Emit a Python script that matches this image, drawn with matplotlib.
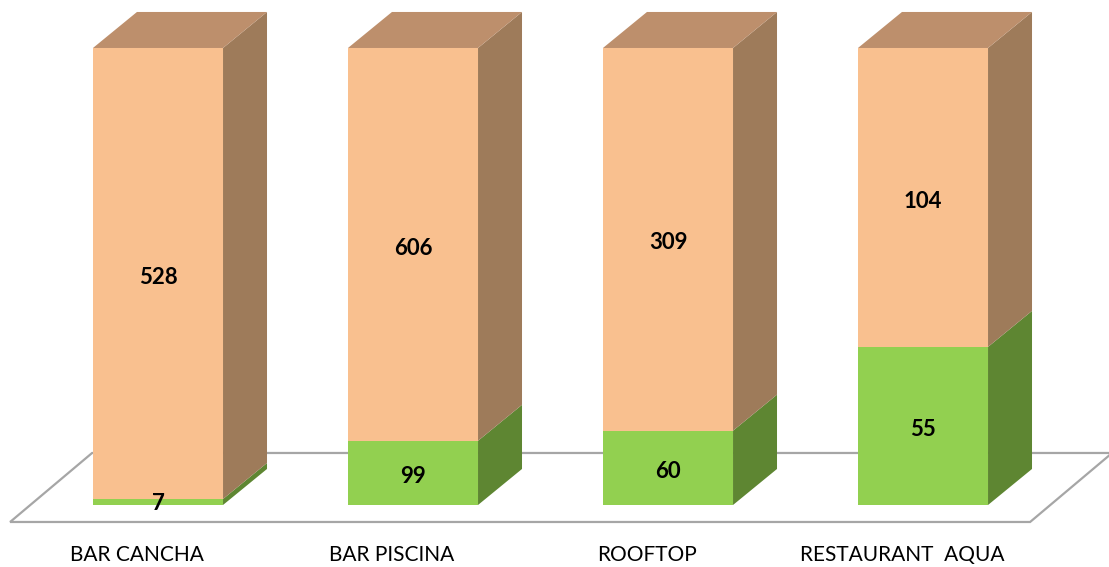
import numpy as np
import matplotlib.pyplot as plt

categories = ['BAR CANCHA', 'BAR PISCINA', 'ROOFTOP', 'RESTAURANT  AQUA']
green_vals = [7, 99, 60, 55]
orange_vals = [528, 606, 309, 104]

# colours (front, top, side)
orange = ('#F9C08F', '#BD8F6C', '#9E7B5A')
green = ('#92D050', '#92D050', '#5E8632')

# geometry in data units (x: category index, y: percent)
bw = 0.51          # bar front width
dx, dy = 0.1725, 7.88   # bar depth offset
fdx, fdy = 0.3216, 15.1  # floor depth

fig = plt.figure(figsize=(11.09, 5.67), dpi=100)
ax = fig.add_axes([0, 0, 1, 1])
ax.set_xlim(-0.6196, 3.7294)
ax.set_ylim(-13.57, 110.5)
ax.axis('off')

# floor
fy0 = -3.72
fx0, fx1 = -0.58, 3.42
ax.fill([fx0, fx1, fx1 + fdx, fx0 + fdx], [fy0, fy0, fy0 + fdy, fy0 + fdy],
        facecolor='white', edgecolor='#A6A6A6', linewidth=1.6, zorder=1)

def box(x, y0, y1, cols, top=False):
    l, r = x - bw / 2, x + bw / 2
    # side face
    ax.fill([r, r + dx, r + dx, r], [y0, y0 + dy, y1 + dy, y1], color=cols[2], zorder=3, lw=0)
    if top:
        ax.fill([l, r, r + dx, l + dx], [y1, y1, y1 + dy, y1 + dy], color=cols[1], zorder=3, lw=0)
    ax.fill([l, r, r, l], [y0, y0, y1, y1], color=cols[0], zorder=4, lw=0)

for i, (g, o) in enumerate(zip(green_vals, orange_vals)):
    tot = g + o
    gp = 100.0 * g / tot
    box(i, 0, gp, green)
    box(i, gp, 100, orange, top=True)
    ax.text(i, max(gp / 2 - 0.8, 0.3), str(g), ha='center', va='center', fontsize=16,
            fontweight='bold', family='Lato', zorder=6, color='black')
    ax.text(i, (gp + 100) / 2 - 0.8, str(o), ha='center', va='center', fontsize=16,
            fontweight='bold', family='Lato', zorder=6, color='black')
    ax.text(i - 0.082, -11.0, categories[i], ha='center', va='center', fontsize=15,
            family='Lato', color='black', zorder=6)

fig.savefig('out.png', dpi=100)
